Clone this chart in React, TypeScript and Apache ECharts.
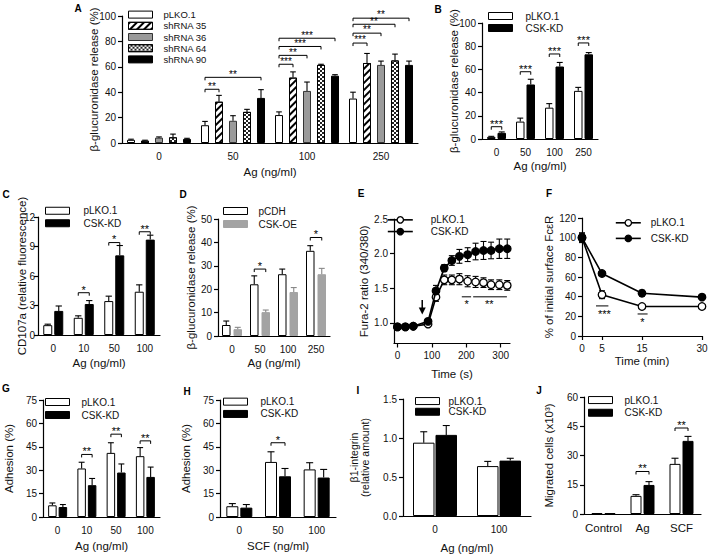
import React, { useEffect, useRef } from 'react';
import * as echarts from 'echarts';

const FONT = '"Liberation Sans", Arial, Helvetica, sans-serif';
const INK = '#111';

// ---------------- Panel A ----------------
const catsA = ['0', '50', '100', '250'];
const legendA = ['pLKO.1', 'shRNA 35', 'shRNA 36', 'shRNA 64', 'shRNA 90'];
const aPLKO = [2.5, 14, 22, 35];
const aPLKOErr = [0.5, 3, 2.5, 5];
const aSh35 = [1.8, 32.5, 51.5, 63];
const aSh35Err = [0.4, 5, 4.5, 7.5];
const aSh36 = [4.2, 17.5, 41, 61.5];
const aSh36Err = [0.6, 4, 7, 3];
const aSh64 = [4.5, 24.5, 61.5, 65];
const aSh64Err = [2.5, 2, 0.5, 5];
const aSh90 = [3.2, 35.5, 53, 61.5];
const aSh90Err = [0.5, 6.5, 0.8, 3];
// [category, fromBar, toBar, y, label]
const sigA: any[] = [
  [1, 0, 1, 42.3, '**'], [1, 0, 4, 51.7, '**'],
  [2, 0, 1, 62, '***'], [2, 0, 2, 69, '**'], [2, 0, 3, 76, '***'], [2, 0, 4, 82.5, '***'],
  [3, 0, 1, 78.7, '***'], [3, 0, 2, 86.5, '**'], [3, 0, 3, 93.5, '**'], [3, 0, 4, 98.3, '**'],
];

// ---------------- Panel B ----------------
const catsB = ['0', '50', '100', '250'];
const legendKD = ['pLKO.1', 'CSK-KD'];
const bPLKO = [1.8, 15, 27, 41.5];
const bPLKOErr = [0.5, 3, 3.5, 3];
const bKD = [5.3, 47, 62.5, 73];
const bKDErr = [0.8, 4.5, 3.5, 1.5];
const sigB: any[] = [[0, 0, 1, 10.6, '***'], [1, 0, 1, 58, '***'], [2, 0, 1, 73.3, '***'], [3, 0, 1, 82.8, '***']];

// ---------------- Panel C ----------------
const catsC = ['0', '10', '50', '100'];
const cPLKO = [1.0, 1.75, 3.45, 4.4];
const cPLKOErr = [0.1, 0.2, 0.5, 0.7];
const cKD = [2.45, 3.15, 8.1, 9.7];
const cKDErr = [0.5, 0.35, 1.0, 0.45];
const sigC: any[] = [[1, 0, 1, 4.3, '*'], [2, 0, 1, 9.4, '*'], [3, 0, 1, 10.5, '**']];

// ---------------- Panel D ----------------
const catsD = ['0', '50', '100', '250'];
const legendD = ['pCDH', 'CSK-OE'];
const dPCDH = [4.7, 22.1, 26.4, 36.4];
const dPCDHErr = [1.7, 3.6, 2.2, 2.2];
const dOE = [2.9, 10.2, 18.8, 26.4];
const dOEErr = [0.8, 0.9, 1.9, 2.5];
const sigD: any[] = [[1, 0, 1, 28.6, '*'], [3, 0, 1, 42.1, '*']];

// ---------------- Panel E ----------------
const timeE = [0, 23, 46, 89, 112, 136, 158, 180, 204, 227, 250, 272, 296, 319];
const ePLKO = [0.94, 0.94, 0.95, 0.98, 1.37, 1.62, 1.62, 1.63, 1.6, 1.59, 1.58, 1.55, 1.55, 1.54];
const ePLKOErr = [0.03, 0.02, 0.02, 0.03, 0.06, 0.07, 0.07, 0.08, 0.08, 0.08, 0.07, 0.07, 0.07, 0.07];
const eKD = [0.94, 0.94, 0.95, 1.02, 1.46, 1.79, 1.9, 1.96, 1.985, 2.03, 2.045, 2.045, 2.07, 2.07];
const eKDErr = [0.03, 0.02, 0.02, 0.03, 0.08, 0.05, 0.07, 0.1, 0.1, 0.12, 0.13, 0.12, 0.14, 0.14];
const ticksEy = [1.0, 1.5, 2.0, 2.5];
const ticksEx = [0, 100, 200, 300];
// [x1, x2, lineY, textX, textY, label]
const sigE: any[] = [[187, 214, 1.375, 201, 1.32, '*'], [220, 318, 1.375, 267, 1.32, '**']];
const arrowE = [[72, 1.33, 1.12]];

// ---------------- Panel F ----------------
const timeF = [0, 5, 15, 30];
const fPLKO = [100, 42, 30, 30];
const fPLKOErr = [5, 4, 1, 1];
const fKD = [100, 63.5, 43.5, 39.5];
const fKDErr = [4, 1.5, 3, 1.5];
const ticksFx = [0, 5, 15, 30];
const sigF: any[] = [[3.5, 6.6, 30.6, 5.6, 25.8, '***'], [13.9, 16.4, 22.4, 15.1, 17.3, '*']];

// ---------------- Panel G ----------------
const catsG = ['0', '10', '50', '100'];
const gPLKO = [7.5, 31.1, 41.1, 39];
const gPLKOErr = [1.5, 4, 6.5, 5.5];
const gKD = [6.4, 20.4, 28.5, 25.7];
const gKDErr = [1.6, 4.3, 5.5, 6.3];
const sigG: any[] = [[1, 0, 1, 40.1, '**'], [2, 0, 1, 53.1, '**'], [3, 0, 1, 48.8, '**']];

// ---------------- Panel H ----------------
const catsH = ['0', '50', '100'];
const hPLKO = [6.9, 35.3, 30.5];
const hPLKOErr = [1.7, 6.5, 4.3];
const hKD = [6, 26.1, 25.3];
const hKDErr = [2, 5, 5.2];
const sigH: any[] = [[1, 0, 1, 47.6, '*']];

// ---------------- Panel I ----------------
const catsI = ['0', '100'];
const iPLKO = [0.94, 0.64];
const iPLKOErr = [0.14, 0.06];
const iKD = [1.04, 0.71];
const iKDErr = [0.12, 0.03];

// ---------------- Panel J ----------------
const catsJ = ['Control', 'Ag', 'SCF'];
const jPLKO = [0.4, 9.3, 25.7];
const jPLKOErr = [0, 0.6, 2.9];
const jKD = [0.4, 14.9, 37.5];
const jKDErr = [0, 1.7, 2.3];
const sigJ: any[] = [[1, 0, 1, 21.8, '**'], [2, 0, 1, 44.1, '**']];

// ---------------- layout (grid index order: A..J) ----------------
const GRIDS = [
  [122, 16, 296, 127],
  [482, 23, 116, 116],
  [38, 217, 122, 118],
  [218, 219, 112, 117],
  [394, 219, 116, 124.5],
  [582, 218, 120, 118],
  [43, 400, 117, 117],
  [220, 400, 116, 117],
  [403, 399, 128, 117],
  [584, 397, 117, 117],
];

const AX = { color: '#000', width: 1.2 };
const TICKFONT = 10;
const TITLEFONT = 11.5;

function yVal(gi: number, min: number, max: number, interval: number | undefined, name: string, nameGap: number, o: any = {}) {
  return {
    gridIndex: gi, type: 'value', min, max, interval,
    name, nameLocation: 'middle', nameGap, nameMoveOverlap: false,
    nameTextStyle: { fontFamily: FONT, fontSize: o.nameSize || TITLEFONT, color: INK, lineHeight: o.nameLH },
    axisLine: { show: true, onZero: false, lineStyle: AX },
    axisTick: { show: true, length: 4, lineStyle: AX, customValues: o.custom },
    axisLabel: { fontFamily: FONT, fontSize: TICKFONT, color: INK, margin: o.lm ?? 6, customValues: o.custom, formatter: o.fmt },
    splitLine: { show: false },
  };
}
function xCat(gi: number, cats: string[], name: string, nameGap: number, size = TICKFONT) {
  return {
    gridIndex: gi, type: 'category', data: cats, boundaryGap: true,
    name, nameLocation: 'middle', nameGap, nameMoveOverlap: false,
    nameTextStyle: { fontFamily: FONT, fontSize: TITLEFONT, color: INK },
    axisLine: { show: true, onZero: false, lineStyle: AX },
    axisTick: { show: false },
    axisLabel: { fontFamily: FONT, fontSize: size, color: INK, margin: 8, interval: 0 },
    splitLine: { show: false },
  };
}
function xVal(gi: number, min: number, max: number, custom: number[], name: string, nameGap: number) {
  return {
    gridIndex: gi, type: 'value', min, max,
    name, nameLocation: 'middle', nameGap, nameMoveOverlap: false,
    nameTextStyle: { fontFamily: FONT, fontSize: TITLEFONT, color: INK },
    axisLine: { show: true, onZero: false, lineStyle: AX },
    axisTick: { show: true, length: 4, lineStyle: AX, customValues: custom },
    axisLabel: { fontFamily: FONT, fontSize: TICKFONT, color: INK, margin: 7, customValues: custom },
    splitLine: { show: false },
  };
}

const key = (p: string, n: string) => p + '|' + n;

function bar(gi: number, p: string, name: string, data: number[], W: number, G: number, color: string, border: string, decal?: any) {
  return {
    type: 'bar', name: key(p, name), xAxisIndex: gi, yAxisIndex: gi, data,
    barWidth: W, barGap: (G / W * 100) + '%',
    itemStyle: { color, borderColor: border, borderWidth: 1, decal },
    z: 2, silent: true,
  };
}

const BLK = { color: '#000' };

function errBars(gi: number, vals: number[], errs: number[], n: number, i: number, W: number, G: number, color = '#000') {
  const cap = Math.min(W * 0.7, 7);
  return {
    type: 'custom', xAxisIndex: gi, yAxisIndex: gi, z: 4, silent: true, itemStyle: BLK,
    data: vals.map((v, k) => [k, v, errs[k]]),
    renderItem: (params: any, api: any) => {
      const k = api.value(0), v = api.value(1), e = api.value(2);
      if (!e) return null;
      const p0 = api.coord([k, v]);
      const p1 = api.coord([k, v + e]);
      const x = p0[0] + (i - (n - 1) / 2) * (W + G);
      const st = { stroke: color, lineWidth: 1.1, fill: 'none' };
      return {
        type: 'group', children: [
          { type: 'line', shape: { x1: x, y1: p0[1], x2: x, y2: p1[1] }, style: st },
          { type: 'line', shape: { x1: x - cap / 2, y1: p1[1], x2: x + cap / 2, y2: p1[1] }, style: st },
        ],
      };
    },
  };
}

function xyErr(gi: number, xs: number[], vals: number[], errs: number[], cap = 6) {
  return {
    type: 'custom', xAxisIndex: gi, yAxisIndex: gi, z: 2, silent: true, itemStyle: BLK,
    data: vals.map((v, k) => [xs[k], v, errs[k]]),
    renderItem: (params: any, api: any) => {
      const x = api.value(0), v = api.value(1), e = api.value(2);
      const a = api.coord([x, v - e]);
      const b = api.coord([x, v + e]);
      const st = { stroke: '#000', lineWidth: 1.1, fill: 'none' };
      return {
        type: 'group', children: [
          { type: 'line', shape: { x1: a[0], y1: a[1], x2: a[0], y2: b[1] }, style: st },
          { type: 'line', shape: { x1: a[0] - cap / 2, y1: a[1], x2: a[0] + cap / 2, y2: a[1] }, style: st },
          { type: 'line', shape: { x1: a[0] - cap / 2, y1: b[1], x2: a[0] + cap / 2, y2: b[1] }, style: st },
        ],
      };
    },
  };
}

function brackets(gi: number, sig: any[], n: number, W: number, G: number, fs = 11, tick = 3) {
  return {
    type: 'custom', xAxisIndex: gi, yAxisIndex: gi, z: 5, silent: true, itemStyle: BLK,
    data: sig.map((s) => [s[0], s[3]]),
    renderItem: (params: any, api: any) => {
      const s = sig[params.dataIndex];
      const c = api.coord([s[0], s[3]]);
      const off = (j: number) => (j - (n - 1) / 2) * (W + G);
      const x1 = c[0] + off(s[1]), x2 = c[0] + off(s[2]), y = c[1];
      return {
        type: 'group', children: [
          { type: 'polyline', shape: { points: [[x1, y + tick], [x1, y], [x2, y], [x2, y + tick]] }, style: { stroke: '#000', lineWidth: 1, fill: 'none' } },
          { type: 'text', x: (x1 + x2) / 2, y: y + 0.3, style: { text: s[4], align: 'center', verticalAlign: 'bottom', fontSize: fs, lineHeight: 7, fontFamily: FONT, fill: '#000' } },
        ],
      };
    },
  };
}

function sigLines(gi: number, sig: any[]) {
  return {
    type: 'custom', xAxisIndex: gi, yAxisIndex: gi, z: 5, silent: true, itemStyle: BLK,
    data: sig.map((s) => [s[0], s[2]]),
    renderItem: (params: any, api: any) => {
      const s = sig[params.dataIndex];
      const a = api.coord([s[0], s[2]]);
      const b = api.coord([s[1], s[2]]);
      const t = api.coord([s[3], s[4]]);
      return {
        type: 'group', children: [
          { type: 'line', shape: { x1: a[0], y1: a[1], x2: b[0], y2: b[1] }, style: { stroke: '#000', lineWidth: 1, fill: 'none' } },
          { type: 'text', x: t[0], y: t[1] + 3, style: { text: s[5], align: 'center', verticalAlign: 'middle', fontSize: 11, lineHeight: 7, fontFamily: FONT, fill: '#000' } },
        ],
      };
    },
  };
}

function arrowSeries(gi: number, data: number[][]) {
  return {
    type: 'custom', xAxisIndex: gi, yAxisIndex: gi, z: 5, silent: true, itemStyle: BLK,
    data,
    renderItem: (params: any, api: any) => {
      const a = api.coord([api.value(0), api.value(1)]);
      const b = api.coord([api.value(0), api.value(2)]);
      return {
        type: 'group', children: [
          { type: 'line', shape: { x1: a[0], y1: a[1], x2: b[0], y2: b[1] - 5 }, style: { stroke: '#000', lineWidth: 1.5, fill: 'none' } },
          { type: 'polygon', shape: { points: [[b[0] - 3.5, b[1] - 7], [b[0] + 3.5, b[1] - 7], [b[0], b[1]]] }, style: { fill: '#000' } },
        ],
      };
    },
  };
}

function lineSeries(gi: number, p: string, name: string, xs: number[], ys: number[], filled: boolean) {
  return {
    type: 'line', name: key(p, name), xAxisIndex: gi, yAxisIndex: gi,
    data: ys.map((v, k) => [xs[k], v]),
    symbol: 'circle', symbolSize: 7.5, showSymbol: true,
    lineStyle: { color: '#000', width: 1.6 },
    itemStyle: { color: filled ? '#000' : '#fff', borderColor: '#000', borderWidth: 1.3 },
    z: filled ? 4 : 3, silent: true,
  };
}

function legendBox(p: string, names: string[], left: number, top: number, rowH: number, pad: number, fs = 10) {
  return {
    show: true, orient: 'vertical', left, top, padding: 0, itemGap: 0,
    itemWidth: 24, itemHeight: 7, icon: 'rect', selectedMode: false,
    data: names.map((n) => key(p, n)),
    formatter: (n: string) => n.split('|')[1],
    itemStyle: { borderWidth: 1 },
    textStyle: { fontFamily: FONT, fontSize: fs, color: INK, lineHeight: rowH, padding: [0, 0, 0, pad] },
  };
}
function legendLine(p: string, names: string[], left: number, top: number, rowH: number, pad: number, fs = 10) {
  return {
    show: true, orient: 'vertical', left, top, padding: 0, itemGap: 0,
    itemWidth: 25, itemHeight: 8, selectedMode: false,
    data: names.map((n, k) => ({
      name: key(p, n),
      itemStyle: { color: k === 0 ? '#fff' : '#000', borderColor: '#000', borderWidth: 1.3 },
      lineStyle: { color: '#000', width: 1.6 },
    })),
    formatter: (n: string) => n.split('|')[1],
    textStyle: { fontFamily: FONT, fontSize: fs, color: INK, lineHeight: rowH, padding: [0, 0, 0, pad] },
  };
}

const HATCH = { symbol: 'rect', symbolSize: 1, color: '#000', dashArrayX: [1, 0], dashArrayY: [1.6, 2.2], rotation: -Math.PI / 4 };
const CHECK = { symbol: 'rect', symbolSize: 1, color: '#222', dashArrayX: [[2, 2], [0, 2, 2, 0]], dashArrayY: [2, 0] };

const WHITE = '#fff';
const BLACK = '#000';
const GREY = '#9a9a9a';

export default function App() {
  const ref = useRef<HTMLDivElement>(null);
  useEffect(() => {
    if (!ref.current) return;
    const chart = echarts.init(ref.current, null, { renderer: 'svg' });

    const grids = GRIDS.map(([l, t, w, h]) => ({ left: l, top: t, width: w, height: h, containLabel: false, outerBoundsMode: 'none' }));

    const xAxis = [
      xCat(0, catsA, 'Ag (ng/ml)', 23),
      xCat(1, catsB, 'Ag (ng/ml)', 21),
      xCat(2, catsC, 'Ag (ng/ml)', 22),
      xCat(3, catsD, 'Ag (ng/ml)', 21),
      xVal(4, -10, 327, ticksEx, 'Time (s)', 24),
      xVal(5, 0, 30, ticksFx, 'Time (min)', 19),
      xCat(6, catsG, 'Ag (ng/ml)', 23),
      xCat(7, catsH, 'SCF (ng/ml)', 23),
      xCat(8, catsI, 'Ag (ng/ml)', 26),
      xCat(9, catsJ, '', 20, 11.5),
    ];
    const yAxis = [
      yVal(0, 0, 100, 20, 'β-glucuronidase release (%)', 22),
      yVal(1, 0, 100, 20, 'β-glucuronidase release (%)', 22),
      yVal(2, 0, 12, 3, 'CD107a (relative fluorescence)', 10, { lm: 3 }),
      yVal(3, 0, 50, 10, 'β-glucuronidase release (%)', 21),
      yVal(4, 0.7, 2.5, undefined, 'Fura-2 ratio (340/380)', 24, { custom: ticksEy, fmt: (v: number) => v.toFixed(1) }),
      yVal(5, 0, 120, 20, '% of initial surface FcεR', 27),
      yVal(6, 0, 75, 15, 'Adhesion (%)', 28),
      yVal(7, 0, 75, 15, 'Adhesion (%)', 28),
      yVal(8, 0, 1.5, 0.5, 'β1-integrin\n(relative amount)', 33, { fmt: (v: number) => v.toFixed(1), nameSize: 10.5, nameLH: 10.5 }),
      yVal(9, 0, 60, 15, 'Migrated cells (x10³)', 29),
    ];

    const WA = 8, GA = 6;
    const series: any[] = [
      // A
      bar(0, 'A', 'pLKO.1', aPLKO, WA, GA, WHITE, BLACK),
      bar(0, 'A', 'shRNA 35', aSh35, WA, GA, WHITE, BLACK, HATCH),
      bar(0, 'A', 'shRNA 36', aSh36, WA, GA, GREY, '#333'),
      bar(0, 'A', 'shRNA 64', aSh64, WA, GA, WHITE, BLACK, CHECK),
      bar(0, 'A', 'shRNA 90', aSh90, WA, GA, BLACK, BLACK),
      errBars(0, aPLKO, aPLKOErr, 5, 0, WA, GA),
      errBars(0, aSh35, aSh35Err, 5, 1, WA, GA),
      errBars(0, aSh36, aSh36Err, 5, 2, WA, GA),
      errBars(0, aSh64, aSh64Err, 5, 3, WA, GA),
      errBars(0, aSh90, aSh90Err, 5, 4, WA, GA),
      brackets(0, sigA, 5, WA, GA, 10),
      // B
      bar(1, 'B', 'pLKO.1', bPLKO, 8.5, 2, WHITE, BLACK),
      bar(1, 'B', 'CSK-KD', bKD, 8.5, 2, BLACK, BLACK),
      errBars(1, bPLKO, bPLKOErr, 2, 0, 8.5, 2),
      errBars(1, bKD, bKDErr, 2, 1, 8.5, 2),
      brackets(1, sigB, 2, 8.5, 2),
      // C
      bar(2, 'C', 'pLKO.1', cPLKO, 9, 2, WHITE, BLACK),
      bar(2, 'C', 'CSK-KD', cKD, 9, 2, BLACK, BLACK),
      errBars(2, cPLKO, cPLKOErr, 2, 0, 9, 2),
      errBars(2, cKD, cKDErr, 2, 1, 9, 2),
      brackets(2, sigC, 2, 9, 2),
      // D
      bar(3, 'D', 'pCDH', dPCDH, 8.5, 3, WHITE, BLACK),
      bar(3, 'D', 'CSK-OE', dOE, 8.5, 3, '#a3a3a3', '#a3a3a3'),
      errBars(3, dPCDH, dPCDHErr, 2, 0, 8.5, 3),
      errBars(3, dOE, dOEErr, 2, 1, 8.5, 3, '#888'),
      brackets(3, sigD, 2, 8.5, 3),
      // E
      xyErr(4, timeE, ePLKO, ePLKOErr),
      xyErr(4, timeE, eKD, eKDErr),
      lineSeries(4, 'E', 'pLKO.1', timeE, ePLKO, false),
      lineSeries(4, 'E', 'CSK-KD', timeE, eKD, true),
      sigLines(4, sigE),
      arrowSeries(4, arrowE),
      // F
      xyErr(5, timeF, fPLKO, fPLKOErr),
      xyErr(5, timeF, fKD, fKDErr),
      lineSeries(5, 'F', 'pLKO.1', timeF, fPLKO, false),
      lineSeries(5, 'F', 'CSK-KD', timeF, fKD, true),
      sigLines(5, sigF),
      // G
      bar(6, 'G', 'pLKO.1', gPLKO, 8.5, 2, WHITE, BLACK),
      bar(6, 'G', 'CSK-KD', gKD, 8.5, 2, BLACK, BLACK),
      errBars(6, gPLKO, gPLKOErr, 2, 0, 8.5, 2),
      errBars(6, gKD, gKDErr, 2, 1, 8.5, 2),
      brackets(6, sigG, 2, 8.5, 2),
      // H
      bar(7, 'H', 'pLKO.1', hPLKO, 12, 2, WHITE, BLACK),
      bar(7, 'H', 'CSK-KD', hKD, 12, 2, BLACK, BLACK),
      errBars(7, hPLKO, hPLKOErr, 2, 0, 12, 2),
      errBars(7, hKD, hKDErr, 2, 1, 12, 2),
      brackets(7, sigH, 2, 12, 2),
      // I
      bar(8, 'I', 'pLKO.1', iPLKO, 21.5, 1, WHITE, BLACK),
      bar(8, 'I', 'CSK-KD', iKD, 21.5, 1, BLACK, BLACK),
      errBars(8, iPLKO, iPLKOErr, 2, 0, 21.5, 1),
      errBars(8, iKD, iKDErr, 2, 1, 21.5, 1),
      // J
      bar(9, 'J', 'pLKO.1', jPLKO, 11, 2, WHITE, BLACK),
      bar(9, 'J', 'CSK-KD', jKD, 11, 2, BLACK, BLACK),
      errBars(9, jPLKO, jPLKOErr, 2, 0, 11, 2),
      errBars(9, jKD, jKDErr, 2, 1, 11, 2),
      brackets(9, sigJ, 2, 11, 2),
    ];

    const legend = [
      legendBox('A', legendA, 128, 9, 11.2, 6, 9.5),
      legendBox('B', legendKD, 488, 10, 12, 8),
      legendBox('C', legendKD, 45, 204.5, 12.5, 9),
      legendBox('D', legendD, 223, 204.5, 13, 6),
      legendLine('E', legendKD, 387, 214, 11.7, 13),
      legendLine('F', legendKD, 615, 215, 15.6, 5),
      legendBox('G', legendKD, 45, 395.5, 13, 7),
      legendBox('H', legendKD, 223, 395.5, 12.3, 8),
      legendBox('I', legendKD, 415, 395.7, 10.7, 4),
      legendBox('J', legendKD, 588, 393.7, 12.7, 7),
    ];

    const letters: [string, number, number][] = [
      ['A', 78, 8], ['B', 438, 9], ['C', 6, 194], ['D', 183, 194], ['E', 361, 193],
      ['F', 549, 193], ['G', 6, 388], ['H', 187, 391], ['I', 358, 390], ['J', 539, 390],
    ];
    const graphic = letters.map(([t, x, y]) => ({
      type: 'text', x, y, silent: true,
      style: { text: t, fontFamily: FONT, fontWeight: 'bold', fontSize: 10, fill: '#000', align: 'center', verticalAlign: 'middle' },
    }));

    chart.setOption({
      animation: false,
      backgroundColor: '#fff',
      color: ['#000'],
      textStyle: { fontFamily: FONT },
      grid: grids,
      xAxis,
      yAxis,
      legend,
      series,
      graphic,
    });
    return () => chart.dispose();
  }, []);
  return <div ref={ref} style={{ position: 'fixed', left: 0, top: 0, width: 708, height: 554, background: '#fff' }} />;
}
